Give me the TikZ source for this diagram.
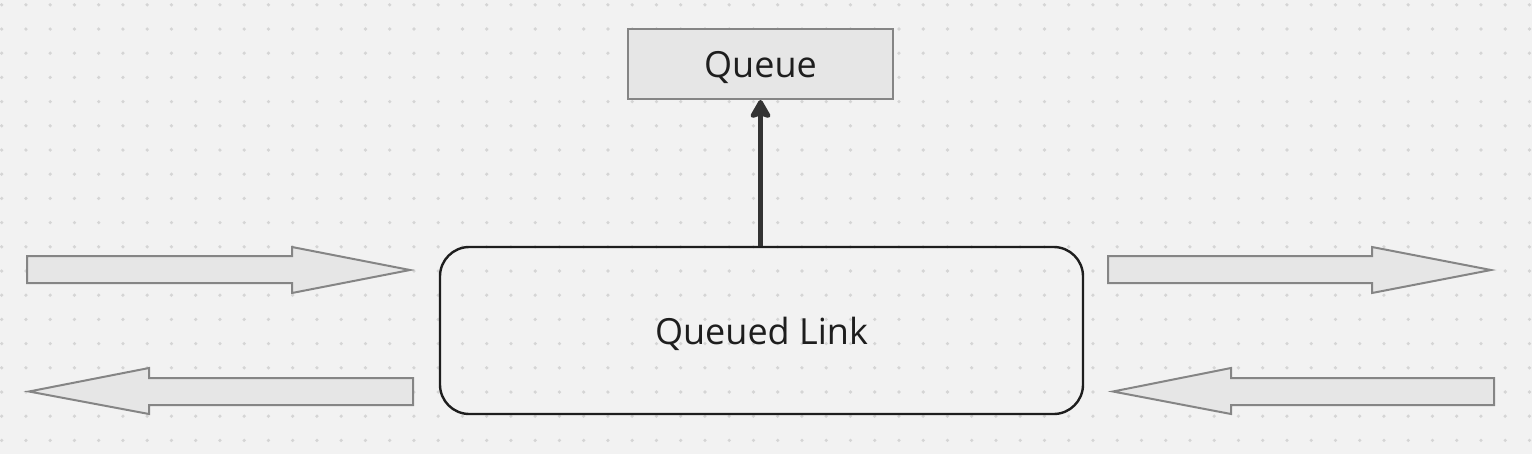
\documentclass[tikz,border=0pt]{standalone}
\usepackage{fontspec}
\setmainfont{Open Sans}
\usetikzlibrary{arrows.meta}

\definecolor{bggray}{HTML}{F2F2F2}
\definecolor{dotgray}{HTML}{D5D5D5}
\definecolor{boxfill}{HTML}{E6E6E6}
\definecolor{boxline}{HTML}{858585}
\definecolor{linkline}{HTML}{1E1E1E}
\definecolor{inkdark}{HTML}{333333}

\tikzset{
qnode/.style={
  minimum width=198.75pt,
  minimum height=52.5pt,
  inner sep=0pt,
  text depth=0pt,
  rectangle,
  draw=boxline,
  fill=boxfill,
  line width=1.5pt,
  text=linkline,
  font=\fontsize{27}{32}\selectfont,
},
linknode/.style={
  qnode,
  minimum width=482.25pt,
  minimum height=125.25pt,
  rounded corners=22pt,
  draw=linkline,
  fill=none,
  line width=1.8pt,
},
flow/.style={draw=inkdark, line width=3.75pt,
  -{Stealth[length=16pt, width=18pt, inset=2.6pt, round]}},
blockarrow/.style={draw=boxline, fill=boxfill, line width=1.5pt},
griddot/.style={fill=dotgray},
}

\begin{document}
\begin{tikzpicture}[x=0.75pt, y=-0.75pt]
\useasboundingbox (0,0) rectangle (1532,454);
\fill[bggray] (0,0) rectangle (1532,454);
% dotted canvas
\foreach \i in {0,...,63}
  \foreach \j in {0,...,18}
    \fill[griddot] (1.7+24.25*\i, 4.8+24.2*\j) circle (1.35pt);

% left side, in and out
\draw[blockarrow] (27,256) -- (292,256) -- (292,247) -- (410,270)
  -- (292,293) -- (292,283) -- (27,283) -- cycle;
\draw[blockarrow] (413,378) -- (149,378) -- (149,368) -- (29,391.5)
  -- (149,414) -- (149,405) -- (413,405) -- cycle;
% right side, in and out
\draw[blockarrow] (1108,256) -- (1372,256) -- (1372,247) -- (1491,270)
  -- (1372,293) -- (1372,283) -- (1108,283) -- cycle;
\draw[blockarrow] (1494,378) -- (1231,378) -- (1231,368) -- (1113,391.5)
  -- (1231,414) -- (1231,405) -- (1494,405) -- cycle;

\node[linknode] (qlink) at (761.5,330.5) {Queued Link};
\node[qnode] (queue) at (760.5,64) {Queue};

\draw[flow] (qlink.north -| queue.south) -- (queue.south);
\end{tikzpicture}
\end{document}
